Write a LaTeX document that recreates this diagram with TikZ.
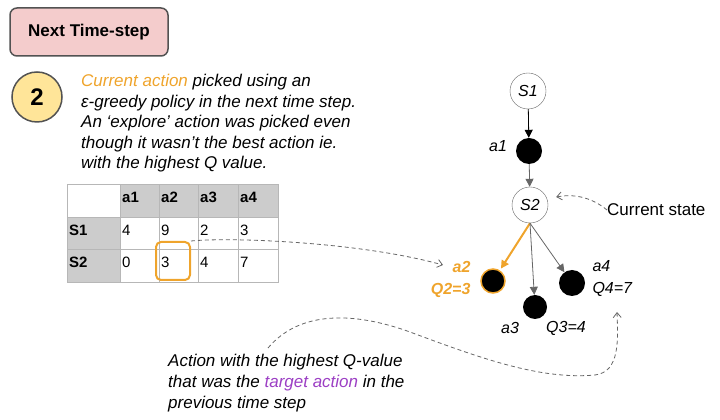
\documentclass[tikz,border=0pt]{standalone}
\usepackage{fontspec}
\setmainfont{Liberation Sans}
\usetikzlibrary{arrows.meta}
\definecolor{qorange}{HTML}{EFA42C}
\definecolor{qpink}{HTML}{F4CCCC}
\definecolor{qyellow}{HTML}{FFE599}
\definecolor{qpurple}{HTML}{9C3FC4}
\definecolor{qgray}{HTML}{666666}
\definecolor{qcell}{HTML}{CCCCCC}
\definecolor{qline}{HTML}{B7B7B7}
\begin{document}
\begin{tikzpicture}[x=1pt, y=1pt,
    every node/.style={font=\fontsize{15}{18}\selectfont},
    state/.style={draw=qgray, circle, fill=white, minimum size=36pt, inner sep=0pt, font=\fontsize{16}{18}\selectfont\itshape},
    act/.style={circle, fill=black, inner sep=0pt},
    lab/.style={font=\fontsize{16}{22}\selectfont\itshape},
    tip/.style={-{Triangle[length=8pt, width=8pt]}},
    dashtip/.style={draw=qgray, dash pattern=on 4pt off 3pt, thick, -{Straight Barb[length=5pt, width=8pt]}}]
      \useasboundingbox (0, 0) rectangle (720, 420);
      % header and step number
      \node [draw=qgray!80!black, line width=1.5pt, fill=qpink, rounded corners=7pt, minimum width=158pt, minimum height=48pt, font=\fontsize{17}{20}\selectfont\bfseries] (title) at (89, 388) {Next Time-step};
      \node [draw=qgray!80!black, line width=1.5pt, fill=qyellow, circle, minimum size=50pt, font=\fontsize{24}{26}\selectfont\bfseries] (num) at (37, 323) {2};
      \node [anchor=north west, inner sep=0pt, align=left, font=\fontsize{17}{20.5}\selectfont\itshape] (info) at (81, 346) {\textcolor{qorange}{Current action} picked using an\\ε-greedy policy in the next time step.\\An ‘explore’ action was picked even\\though it wasn’t the best action ie.\\with the highest Q value.};
      % Q table
      \fill [qcell] (120, 203) rectangle (278, 236);
      \fill [qcell] (67, 138) rectangle (120, 203);
      \draw [qline] (67, 138) rectangle (278, 236);
      \foreach \x in {120, 159, 198, 238} \draw [qline] (\x, 138) -- (\x, 236);
      \foreach \y in {171, 203} \draw [qline] (67, \y) -- (278, \y);
      \foreach \x/\t in {120/a1, 159/a2, 198/a3, 238/a4}
        \node [anchor=west, inner sep=0pt, font=\fontsize{15}{18}\selectfont\bfseries] at (\x+2, 223) {\t};
      \node [anchor=west, inner sep=0pt, font=\fontsize{15}{18}\selectfont\bfseries] at (69, 190) {S1};
      \node [anchor=west, inner sep=0pt, font=\fontsize{15}{18}\selectfont\bfseries] at (69, 158) {S2};
      \foreach \x/\a/\b in {120/4/0, 159/9/3, 198/2/4, 238/3/7} {
        \node [anchor=west, inner sep=0pt] at (\x+2, 190) {\a};
        \node [anchor=west, inner sep=0pt] at (\x+2, 158) {\b};
      }
      \node [draw=qorange, line width=2pt, rounded corners=5pt, minimum width=34pt, minimum height=38pt] (pick) at (173, 159) {};
      % tree
      \node [state] (s1) at (528, 329) {S1};
      \node [act, minimum size=26pt] (a1) at (529, 269) {};
      \node [state] (s2) at (530, 215) {S2};
      \node [act, minimum size=24pt, draw=qorange, line width=1.5pt] (a2) at (493, 139) {};
      \node [act, minimum size=24pt] (a3) at (535, 113) {};
      \node [act, minimum size=26pt] (a4) at (572, 137) {};
      \draw [tip, black, thick] (s1) to (a1);
      \draw [tip, qgray, thick] (a1) to (s2);
      \draw [tip, qorange, line width=2pt, shorten >=2pt] (s2.south) to (a2);
      \draw [tip, qgray, thick] (s2.south) to (a3);
      \draw [tip, qgray, thick] (s2.south) to (a4);
      \node [lab] (a1lab) at (498, 274) {a1};
      \node [lab, anchor=east, align=right, text=qorange, font=\fontsize{16}{22}\selectfont\bfseries\itshape] (a2lab) at (474, 141) {a2\\Q2=3};
      \node [lab] (a3lab) at (510, 92) {a3};
      \node [lab] (q3lab) at (566, 92) {Q3=4};
      \node [lab, anchor=west, align=left] (a4lab) at (589, 141) {a4\\Q4=7};
      \node [anchor=west, inner sep=0pt, font=\fontsize{17}{20}\selectfont] (cur) at (607, 210) {Current state};
      \coordinate (a2in) at (443, 155);
      \draw [dashtip] (cur.west) .. controls (590, 224) and (572, 226) .. ([shift={(8, 8)}]s2.east);
      \draw [dashtip] (pick.north east) .. controls (232, 183) and (360, 178) .. (a2in);
      % bottom note
      \node [anchor=north west, inner sep=0pt, align=left, font=\fontsize{17}{21}\selectfont\itshape] (note) at (168, 66) {Action with the highest Q-value\\that was the \textcolor{qpurple}{target action} in the\\previous time step};
      \coordinate (from) at (268, 72);
      \coordinate (goal) at (617, 108);
      \draw [dashtip] (from) .. controls (300, 110) and (355, 108) .. (410, 88) .. controls (480, 62) and (540, 40) .. (595, 45) .. controls (620, 48) and (618, 80) .. (goal);
    \end{tikzpicture}
\end{document}
